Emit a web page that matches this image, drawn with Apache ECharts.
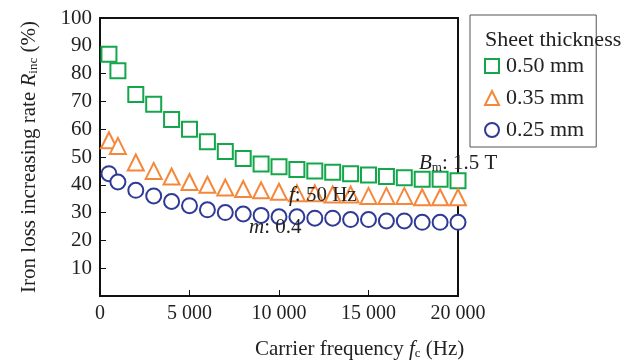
<!DOCTYPE html>
<html>
<head>
<meta charset="utf-8">
<script src="https://cdn.jsdelivr.net/npm/echarts@6/dist/echarts.min.js"></script>
<style>
  html, body { margin: 0; padding: 0; background: #fff; }
  #chart { width: 643px; height: 364px; }
</style>
</head>
<body>
<div id="chart"></div>
<script>
// carrier frequency (Hz)
const freqs = [500, 1000, 2000, 3000, 4000, 5000, 6000, 7000, 8000, 9000, 10000,
               11000, 12000, 13000, 14000, 15000, 16000, 17000, 18000, 19000, 20000];
// iron loss increasing rate (%)
const rate050 = [87, 81, 72.5, 69, 63.5, 60, 55.5, 52, 49.5, 47.5, 46.5,
                 45.5, 45, 44.5, 44, 43.5, 43, 42.5, 42, 42, 41.5];
const rate035 = [56, 54, 48, 45, 43, 41, 40, 39, 38.5, 38, 37.5,
                 37, 37, 36.5, 36.5, 36, 36, 36, 35.5, 35.5, 35.5];
const rate025 = [44, 41, 38, 36, 34, 32.5, 31, 30, 29.5, 29, 28.5,
                 28.5, 28, 28, 27.5, 27.5, 27, 27, 26.5, 26.5, 26.5];
const names = ['0.50 mm', '0.35 mm', '0.25 mm'];
const xTicks = [0, 5000, 10000, 15000, 20000];

const green = '#14a64b';
const orange = '#f5873a';
const blue = '#2f3a97';
const font = 'Liberation Serif';

function pairs(ys) {
    return freqs.map((f, i) => [f, ys[i]]);
}

function mkSeries(name, ys, symbol, size, color) {
    return {
        type: 'scatter',
        name: name,
        data: pairs(ys),
        symbol: symbol,
        symbolSize: size,
        itemStyle: { color: '#fff', borderColor: color, borderWidth: 2, opacity: 1 },
        emphasis: { disabled: true }
    };
}

const chart = echarts.init(document.getElementById('chart'));

const option = {
    animation: false,
    backgroundColor: '#fff',
    textStyle: { fontFamily: font, color: '#222' },
    title: [
        {
            text: 'Carrier frequency {i|f}{s|c} (Hz)',
            left: 250, top: 334,
            textStyle: {
                fontFamily: font, fontSize: 21, fontWeight: 'normal', color: '#222',
                rich: {
                    i: { fontFamily: font, fontSize: 21, fontStyle: 'italic', color: '#222' },
                    s: { fontFamily: font, fontSize: 13, color: '#222', verticalAlign: 'bottom', padding: [8, 0, 0, 0] }
                }
            }
        },
        {
            text: 'Sheet thickness',
            left: 480, top: 24,
            textStyle: { fontFamily: font, fontSize: 22, fontWeight: 'normal', color: '#222' }
        },
        {
            text: '{i|B}{s|m}: 1.5 T',
            left: 414, top: 148,
            textStyle: {
                fontFamily: font, fontSize: 21, fontWeight: 'normal', color: '#222',
                rich: {
                    i: { fontFamily: font, fontSize: 21, fontStyle: 'italic', color: '#222' },
                    s: { fontFamily: font, fontSize: 13, color: '#222', padding: [8, 0, 0, 0] }
                }
            }
        },
        {
            text: '{i|f}: 50 Hz',
            left: 284, top: 180,
            textStyle: {
                fontFamily: font, fontSize: 21, fontWeight: 'normal', color: '#222',
                rich: { i: { fontFamily: font, fontSize: 21, fontStyle: 'italic', color: '#222' } }
            }
        },
        {
            text: '{i|m}: 0.4',
            left: 244, top: 212,
            textStyle: {
                fontFamily: font, fontSize: 21, fontWeight: 'normal', color: '#222',
                rich: { i: { fontFamily: font, fontSize: 21, fontStyle: 'italic', color: '#222' } }
            }
        }
    ],
    legend: {
        data: names,
        orient: 'vertical',
        left: 470, top: 15,
        padding: [40, 12, 6, 14],
        itemGap: 10,
        itemWidth: 14, itemHeight: 14,
        borderColor: '#555', borderWidth: 1,
        textStyle: { fontFamily: font, fontSize: 22, color: '#222', padding: [0, 0, 0, 2] },
        selectedMode: false
    },
    grid: {
        left: 100, top: 18, width: 358, height: 278,
        show: true, borderColor: '#111', borderWidth: 2, backgroundColor: 'transparent'
    },
    xAxis: {
        type: 'value',
        min: xTicks[0], max: xTicks[xTicks.length - 1], interval: 5000,
        axisLine: { show: true, lineStyle: { color: '#111', width: 2 } },
        axisTick: { show: true, inside: true, length: 6, lineStyle: { color: '#111', width: 1 } },
        splitLine: { show: false },
        axisLabel: {
            fontFamily: font, fontSize: 20, color: '#222', margin: 8,
            formatter: v => v >= 1000 ? String(v).replace(/(\d+)(\d{3})$/, '$1 $2') : String(v)
        }
    },
    yAxis: {
        type: 'value',
        min: 0, max: 100, interval: 10,
        name: 'Iron loss increasing rate {i|R}{s|inc} (%)',
        nameLocation: 'middle',
        nameGap: 60,
        nameTextStyle: {
            fontFamily: font, fontSize: 21, color: '#222',
            rich: {
                i: { fontFamily: font, fontSize: 21, fontStyle: 'italic', color: '#222' },
                s: { fontFamily: font, fontSize: 13, color: '#222', padding: [8, 0, 0, 0] }
            }
        },
        axisLine: { show: true, lineStyle: { color: '#111', width: 2 } },
        axisTick: { show: true, inside: true, length: 6, lineStyle: { color: '#111', width: 1 } },
        splitLine: { show: false },
        axisLabel: {
            fontFamily: font, fontSize: 21, color: '#222', margin: 8,
            formatter: v => v === 0 ? '' : String(v)
        }
    },
    series: [
        mkSeries(names[0], rate050, 'rect', 15, green),
        mkSeries(names[1], rate035, 'triangle', 16, orange),
        mkSeries(names[2], rate025, 'circle', 15, blue)
    ]
};

chart.setOption(option);
</script>
</body>
</html>
